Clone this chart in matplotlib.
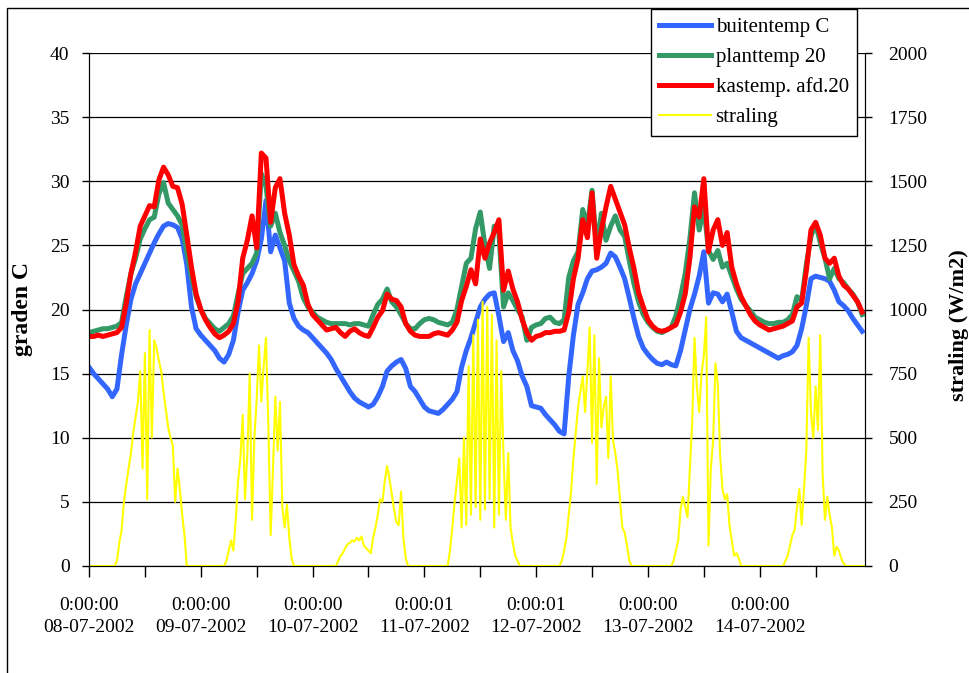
import numpy as np
import matplotlib
matplotlib.use("Agg")
import matplotlib.pyplot as plt
from matplotlib.patches import Rectangle

plt.rcParams['font.family'] = ['Liberation Serif', 'DejaVu Serif']

# hourly temperatures, 08-07-2002 0:00 onwards (one row per day)
buitentemp = [
    15.5, 15.0, 14.6, 14.2, 13.8, 13.2, 13.8, 16.5, 18.8, 20.8, 22.0, 22.8, 23.6, 24.4, 25.2, 25.9, 26.5, 26.7, 26.6, 26.4, 25.5, 23.5, 20.2, 18.5,
    18.0, 17.6, 17.2, 16.8, 16.2, 15.9, 16.5, 17.6, 19.8, 21.5, 22.1, 22.8, 23.8, 25.5, 28.5, 24.5, 25.8, 24.8, 23.8, 20.5, 19.3, 18.7, 18.4, 18.2,
    17.8, 17.4, 17.0, 16.6, 16.1, 15.4, 14.8, 14.2, 13.6, 13.1, 12.8, 12.6, 12.4, 12.6, 13.2, 14.0, 15.2, 15.6, 15.9, 16.1, 15.4, 14.0, 13.6, 13.0,
    12.4, 12.1, 12.0, 11.9, 12.2, 12.6, 13.0, 13.6, 15.5, 16.8, 17.8, 19.0, 20.2, 20.8, 21.2, 21.3, 19.5, 17.5, 18.2, 16.8, 16.0, 14.8, 14.0, 12.5,
    12.4, 12.3, 11.8, 11.4, 11.0, 10.5, 10.3, 14.8, 18.0, 20.4, 21.3, 22.4, 23.0, 23.1, 23.3, 23.6, 24.4, 24.1, 23.3, 22.4, 20.9, 19.3, 17.9, 17.0,
    16.5, 16.1, 15.8, 15.7, 15.9, 15.7, 15.6, 16.8, 18.4, 20.0, 21.2, 22.6, 24.5, 20.5, 21.3, 21.2, 20.6, 21.2, 19.8, 18.3, 17.8, 17.6, 17.4, 17.2,
    17.0, 16.8, 16.6, 16.4, 16.2, 16.4, 16.5, 16.7, 17.2, 18.5, 20.3, 22.4, 22.6, 22.5, 22.4, 22.2, 21.5, 20.6, 20.3, 19.9, 19.3, 18.8, 18.3,
]
planttemp = [
    18.2, 18.3, 18.4, 18.5, 18.5, 18.6, 18.7, 19.0, 21.0, 22.8, 24.0, 25.5, 26.3, 27.0, 27.2, 29.0, 29.9, 28.3, 27.8, 27.3, 26.6, 24.5, 22.6, 21.0,
    20.0, 19.3, 18.9, 18.5, 18.3, 18.6, 18.9, 19.5, 21.2, 22.8, 23.2, 23.6, 24.4, 30.6, 29.6, 26.5, 27.5, 26.0, 25.0, 23.8, 23.0, 22.2, 20.9, 20.2,
    19.8, 19.4, 19.2, 19.0, 18.9, 18.9, 18.9, 18.9, 18.8, 18.9, 18.9, 18.8, 18.7, 19.6, 20.4, 20.8, 21.6, 20.6, 20.2, 19.6, 18.9, 18.5, 18.5, 18.9,
    19.2, 19.3, 19.2, 19.0, 18.9, 18.8, 19.0, 20.0, 21.8, 23.6, 24.0, 26.3, 27.6, 25.0, 23.2, 26.5, 26.0, 20.2, 21.3, 20.7, 20.0, 19.4, 17.6, 18.6,
    18.8, 18.9, 19.3, 19.4, 19.0, 18.9, 19.2, 22.5, 23.8, 24.5, 27.8, 26.5, 29.3, 24.8, 27.5, 25.4, 26.5, 27.3, 26.2, 25.7, 23.8, 22.0, 20.6, 19.6,
    19.0, 18.6, 18.3, 18.2, 18.4, 18.6, 19.5, 21.0, 22.8, 25.5, 29.1, 26.2, 28.0, 24.6, 23.9, 24.6, 23.3, 23.6, 22.6, 21.6, 20.8, 20.3, 19.9, 19.4,
    19.2, 19.0, 18.9, 18.9, 19.0, 19.0, 19.2, 19.6, 21.0, 20.7, 23.5, 25.7, 26.7, 25.2, 24.0, 22.4, 23.2, 22.4, 22.1, 21.6, 21.2, 20.6, 19.6,
]
kastemp = [
    17.9, 17.9, 18.0, 17.9, 18.0, 18.1, 18.2, 18.6, 20.5, 22.8, 24.5, 26.5, 27.3, 28.1, 28.0, 30.1, 31.1, 30.5, 29.6, 29.5, 28.2, 25.8, 23.3, 21.2,
    20.0, 19.2, 18.6, 18.1, 17.8, 18.0, 18.3, 18.9, 20.6, 24.0, 25.4, 27.3, 24.8, 32.2, 31.8, 26.8, 29.5, 30.2, 27.5, 25.8, 23.5, 22.6, 21.9, 20.4,
    19.6, 19.2, 18.8, 18.4, 18.5, 18.6, 18.2, 17.9, 18.3, 18.5, 18.2, 18.0, 17.9, 18.6, 19.4, 19.9, 21.2, 20.8, 20.7, 20.2, 18.9, 18.3, 18.0, 17.9,
    17.9, 17.9, 18.1, 18.2, 18.1, 18.0, 18.4, 19.0, 20.7, 21.8, 23.1, 22.0, 25.5, 24.0, 25.2, 26.0, 27.0, 21.5, 23.0, 21.6, 20.6, 19.2, 18.2, 17.6,
    17.9, 18.0, 18.2, 18.2, 18.3, 18.3, 18.4, 19.8, 22.4, 24.0, 27.0, 25.6, 29.1, 24.0, 26.2, 28.0, 29.6, 28.6, 27.6, 26.6, 24.8, 23.2, 21.3, 20.2,
    19.2, 18.7, 18.4, 18.3, 18.4, 18.6, 18.8, 19.8, 21.2, 24.0, 28.0, 27.2, 30.2, 24.5, 26.2, 27.0, 25.0, 26.0, 23.3, 22.0, 21.0, 20.3, 19.6, 19.1,
    18.8, 18.6, 18.4, 18.5, 18.6, 18.7, 18.9, 19.1, 20.2, 20.5, 23.0, 26.2, 26.8, 25.8, 24.0, 23.6, 24.0, 22.6, 21.9, 21.6, 21.1, 20.6, 19.8,
]

# half-hourly radiation (W/m2), one list per day
straling_d1 = [0] * 12 + [20, 90, 140, 250, 320, 380, 440, 520, 580, 640, 760, 380, 830, 260, 920,
                          500, 880, 850, 800, 760, 680, 610, 540, 500, 470, 250, 380, 300, 200, 120] + [0] * 6
straling_d2 = [0] * 11 + [20, 60, 100, 60, 180, 330, 420, 590, 260, 440, 750, 180, 500, 650, 860,
                          640, 780, 890, 550, 120, 380, 660, 450, 640, 230, 150, 240, 110, 30] + [0] * 8
straling_d3 = [0] * 11 + [20, 40, 50, 70, 85, 90, 100, 95, 110, 100, 115, 80, 70, 60, 50,
                          110, 150, 200, 260, 250, 330, 390, 340, 280, 220, 170, 160, 290, 110, 30] + [0] * 7
straling_d4 = [0] * 11 + [60, 150, 250, 330, 420, 150, 500, 160, 780, 200, 900, 230, 960, 180, 1030,
                          220, 1010, 260, 980, 150, 880, 200, 760, 420, 180, 440, 150, 90, 40, 20] + [0] * 7
straling_d5 = [0] * 11 + [20, 60, 110, 200, 290, 420, 520, 620, 680, 740, 600, 760, 930, 480, 900,
                          320, 810, 540, 620, 660, 420, 740, 490, 440, 370, 260, 150, 130, 80, 20] + [0] * 7
straling_d6 = [0] * 11 + [20, 60, 100, 220, 270, 230, 190, 380, 560, 890, 700, 600, 750, 820, 970,
                          80, 380, 490, 790, 710, 430, 300, 260, 280, 160, 100, 40, 50, 30, 0] + [0] * 7
straling_d7 = [0] * 11 + [20, 40, 80, 120, 140, 230, 300, 160, 300, 450, 890, 600, 500, 700, 530,
                          900, 360, 180, 270, 200, 150, 40, 75, 60, 30, 10] + [0] * 9
straling = (straling_d1 + straling_d2 + straling_d3 + straling_d4
            + straling_d5 + straling_d6 + straling_d7)

days = ['08-07-2002', '09-07-2002', '10-07-2002', '11-07-2002',
        '12-07-2002', '13-07-2002', '14-07-2002']
times = ['0:00:00', '0:00:00', '0:00:00', '0:00:01', '0:00:01', '0:00:00', '0:00:00']

hours_t = np.arange(len(buitentemp))          # hourly samples
hours_s = np.arange(len(straling)) * 0.5      # half-hourly samples

W, H = 969, 673
fig = plt.figure(figsize=(W / 100, H / 100), dpi=100)
ax = fig.add_axes([89 / W, 1 - 566 / H, 776 / W, 513 / H])
ax2 = ax.twinx()

ax.plot(hours_t, buitentemp, color='#3366FF', lw=3.6, label='buitentemp C', solid_joinstyle='round')
ax.plot(hours_t, planttemp, color='#339966', lw=3.6, label='planttemp 20', solid_joinstyle='round')
ax.plot(hours_t, kastemp, color='#FF0000', lw=3.6, label='kastemp. afd.20', solid_joinstyle='round')
ax2.plot(hours_s, straling, color='#FFFF00', lw=1.5, label='straling')

ax.set_xlim(0, 166.6)
ax.set_ylim(0, 40)
ax2.set_ylim(0, 2000)
ax.set_yticks(np.arange(0, 41, 5))
ax2.set_yticks(np.arange(0, 2001, 250))

ax.set_xticks(np.arange(0, 157, 12))
xlabels = []
for t, d in zip(times, days):
    xlabels += [t + '\n' + d, '']
ax.set_xticklabels(xlabels, linespacing=1.45)

ax.yaxis.grid(True, color='black', lw=0.9)
ax.set_axisbelow(True)
for a in (ax, ax2):
    a.spines['top'].set_visible(False)
    a.tick_params(labelsize=14, direction='out', width=1)
ax.tick_params(axis='y', length=5, pad=9)
ax.tick_params(axis='x', length=8, pad=14)
ax2.tick_params(axis='y', length=5, pad=12)

ax.set_ylabel('graden C', fontsize=17, fontweight='bold')
ax.yaxis.set_label_coords(-0.072, 0.5)
ax2.set_ylabel('straling (W/m2)', fontsize=16, fontweight='bold')
ax2.yaxis.set_label_coords(1.108, 0.47)

# legend, top right over the frame
handles = ax.get_lines() + ax2.get_lines()
leg = fig.legend(handles, [h.get_label() for h in handles], loc='upper left',
                 bbox_to_anchor=(651 / W, 1 - 9 / H), borderaxespad=0,
                 fontsize=15, frameon=True, fancybox=False, edgecolor='black',
                 framealpha=1, handlelength=2.5, labelspacing=0.5,
                 borderpad=0.4, handletextpad=0.2)
leg.get_frame().set_linewidth(1)

# outer chart border
fig.patches.append(Rectangle((7 / W, -0.1), 1.2, 1.1 - 8 / H, transform=fig.transFigure,
                             fill=False, edgecolor='black', lw=1))

fig.savefig('out.png', dpi=100)
